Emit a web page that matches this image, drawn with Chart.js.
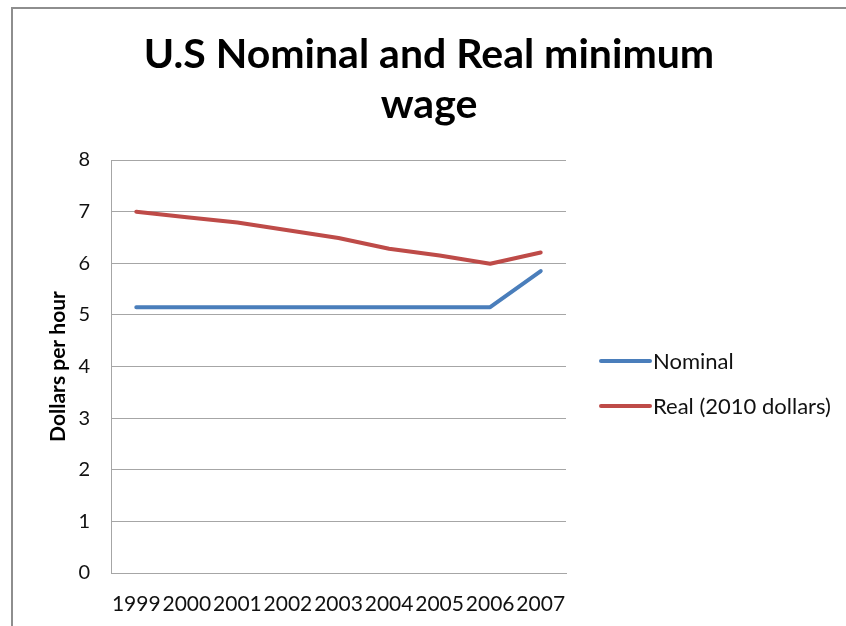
<!DOCTYPE html>
<html>
<head>
<meta charset="utf-8">
<script src="https://cdn.jsdelivr.net/npm/chart.js@4/dist/chart.umd.min.js"></script>
<style>
  html, body { margin:0; padding:0; background:#fff; }
  #wrap { position:relative; width:846px; height:626px; overflow:hidden; }
  #frame { position:absolute; left:11px; top:7px; right:-5px; bottom:-5px; border-left:2px solid #8e8e8e; border-top:2px solid #8e8e8e; }
  #chart { position:absolute; left:0; top:0; }
</style>
</head>
<body>
<div id="wrap">
  <div id="frame"></div>
  <canvas id="chart" width="846" height="626"></canvas>
</div>
<script>
const years = ['1999','2000','2001','2002','2003','2004','2005','2006','2007'];
const nominal = [5.15, 5.15, 5.15, 5.15, 5.15, 5.15, 5.15, 5.15, 5.85];
const real = [7.00, 6.89, 6.79, 6.64, 6.49, 6.28, 6.15, 5.99, 6.21];
const yTicks = [0, 1, 2, 3, 4, 5, 6, 7, 8];

const FONT = 'Lato';
const GRID = '#a6a6a6';

// legend drawn at the right, like the spreadsheet one
const sideLegend = {
  id:'sideLegend',
  afterDraw(chart){
    const ctx = chart.ctx;
    const x0 = chart.chartArea.right + 35;
    ctx.save();
    chart.data.datasets.forEach((ds, i) => {
      const y = 361 + i*45;
      ctx.strokeStyle = ds.borderColor;
      ctx.lineWidth = 4;
      ctx.lineCap = 'round';
      ctx.beginPath(); ctx.moveTo(x0, y); ctx.lineTo(x0+49, y); ctx.stroke();
      ctx.fillStyle = '#111';
      ctx.font = `22px ${FONT}`;
      ctx.textBaseline = 'middle';
      ctx.fillText(ds.label, x0+52, y+1);
    });
    ctx.restore();
  }
};

new Chart(document.getElementById('chart'), {
  type:'line',
  data:{
    labels: years,
    datasets:[
      { label:'Nominal', data:nominal, borderColor:'#4a7ebb', backgroundColor:'#4a7ebb', borderWidth:4, pointRadius:0, tension:0, borderCapStyle:'round', borderJoinStyle:'round' },
      { label:'Real (2010 dollars)', data:real, borderColor:'#be4b48', backgroundColor:'#be4b48', borderWidth:4, pointRadius:0, tension:0, borderCapStyle:'round', borderJoinStyle:'round' }
    ]
  },
  options:{
    responsive:false, animation:false,
    layout:{ padding:{ left:12, right:0, top:5, bottom:0 } },
    plugins:{
      legend:{ display:false },
      tooltip:{ enabled:false },
      title:{
        display:true,
        text:['U.S Nominal and Real minimum', 'wage'],
        color:'#000',
        font:{ family:FONT, size:41, weight:'bold', lineHeight:1.22 },
        padding:{ top:25, bottom:30 }
      }
    },
    scales:{
      x:{
        offset:true,
        grid:{ display:false, drawTicks:false },
        border:{ color:GRID, width:1 },
        ticks:{ color:'#111', font:{ family:FONT, size:21 }, padding:19, autoSkip:false, maxRotation:0, minRotation:0 },
        afterFit(s){ s.height = 53; }
      },
      y:{
        min:0, max:8,
        afterBuildTicks(s){ s.ticks = yTicks.map(v => ({ value:v })); },
        grid:{ color:GRID, drawTicks:false },
        border:{ color:GRID, width:1 },
        ticks:{ color:'#111', font:{ family:FONT, size:20 }, padding:21 },
        title:{ display:true, text:'Dollars per hour', color:'#000', font:{ family:FONT, size:21, weight:'bold' }, padding:{ top:34, bottom:0 } },
        afterFit(s){ s.width = 99; }
      },
      // empty axis that keeps room for the legend on the right
      side:{
        position:'right', axis:'y', display:true,
        grid:{ display:false, drawTicks:false },
        border:{ display:false },
        ticks:{ display:false },
        afterFit(s){ s.width = 280; }
      }
    }
  },
  plugins:[sideLegend]
});
</script>
</body>
</html>
